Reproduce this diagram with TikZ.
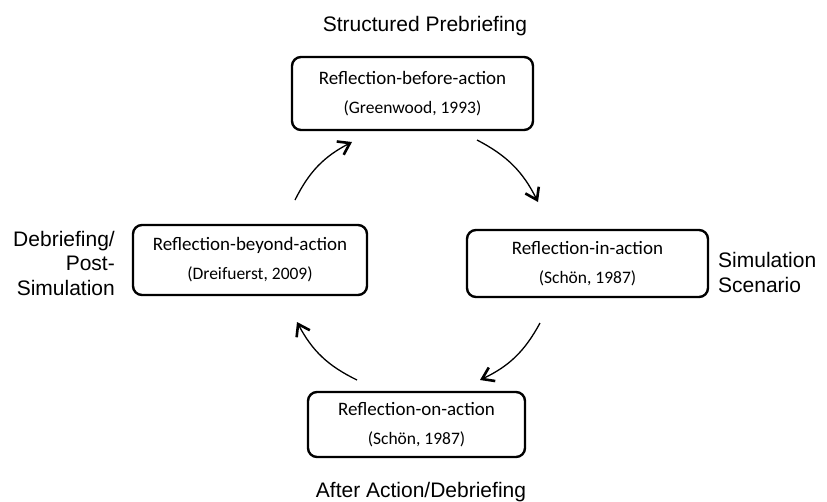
\documentclass[tikz,border=0pt]{standalone}
\usepackage{fontspec}
\setmainfont{Carlito}
\newfontfamily\labelfont{Liberation Sans}
\usetikzlibrary{arrows.meta}
\tikzset{
  refbox/.style={draw=black, line width=2.4pt, rounded corners=9pt, inner sep=0pt, align=center},
  boxmain/.style={font=\fontsize{19}{27}\selectfont},
  outerlabel/.style={font=\labelfont\fontsize{21}{24.5}\selectfont, inner sep=0pt},
  cyc/.style={line width=1.3pt, -{Straight Barb[length=11pt,width=15pt,line width=2.6pt]}, bend left=18}
}
\newcommand{\citeline}[1]{{\fontsize{17.5}{27}\selectfont #1}}
\begin{document}
\begin{tikzpicture}[x=1pt,y=-1pt]
\useasboundingbox (0,0) rectangle (827,501);
\fill[white] (0,0) rectangle (827,501);

\node[refbox, boxmain, minimum width=241pt, minimum height=73pt] (top) at (412.5,93.5)
  {Reflection-before-action\\[2pt]\citeline{(Greenwood, 1993)}};
\node[refbox, boxmain, minimum width=234pt, minimum height=70pt] (left) at (250,260)
  {Reflection-beyond-action\\[2pt]\citeline{(Dreifuerst, 2009)}};
\node[refbox, boxmain, minimum width=241pt, minimum height=67pt] (right) at (587.5,263.5)
  {Reflection-in-action\\[2pt]\citeline{(Schön, 1987)}};
\node[refbox, boxmain, minimum width=217pt, minimum height=65pt] (bottom) at (416.5,424.5)
  {Reflection-on-action\\[2pt]\citeline{(Schön, 1987)}};

\node[outerlabel, anchor=base] (tl) at (425,31.5) {Structured Prebriefing};
\node[outerlabel, anchor=base] (bl) at (421,497) {After Action/Debriefing};
\node[outerlabel, anchor=base east, align=right] (ll) at (115,295) {Debriefing/\\Post-\\Simulation};
\node[outerlabel, anchor=base west, align=left] (rl) at (718,292) {Simulation\\Scenario};

\coordinate (a1s) at (295,200);
\coordinate (a1e) at (352,142);
\coordinate (a2s) at (477,140);
\coordinate (a2e) at (538,202);
\coordinate (a3s) at (540,323);
\coordinate (a3e) at (480,380);
\coordinate (a4s) at (357,380);
\coordinate (a4e) at (297,322);

\draw[cyc] (a1s) to (a1e);
\draw[cyc] (a2s) to (a2e);
\draw[cyc] (a3s) to (a3e);
\draw[cyc] (a4s) to (a4e);
\end{tikzpicture}
\end{document}
